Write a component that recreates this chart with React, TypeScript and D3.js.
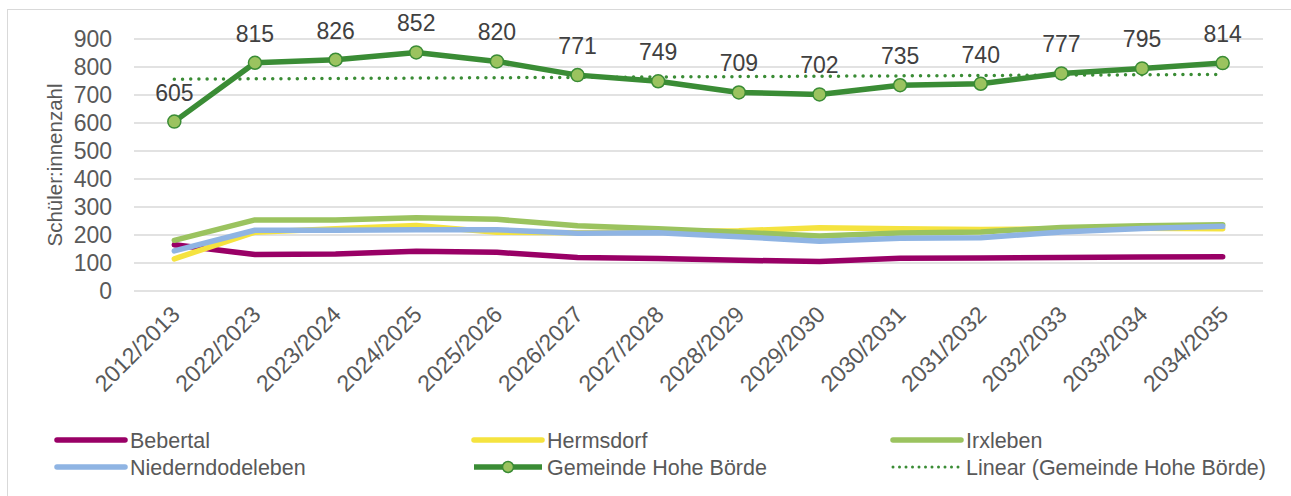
import { useEffect, useRef } from "react";
import { scaleLinear, scalePoint, select, line } from "d3";

const WIDTH = 1291;
const HEIGHT = 496;
const PLOT = { left: 134, right: 1263, top: 39, bottom: 291 };
const FONT = "'Liberation Sans', Arial, sans-serif";

const YEARS = [
  "2012/2013", "2022/2023", "2023/2024", "2024/2025", "2025/2026", "2026/2027", "2027/2028",
  "2028/2029", "2029/2030", "2030/2031", "2031/2032", "2032/2033", "2033/2034", "2034/2035",
];
const Y_TICKS = [0, 100, 200, 300, 400, 500, 600, 700, 800, 900];

const BEBERTAL = [165, 130, 132, 142, 138, 120, 116, 110, 105, 117, 118, 120, 121, 122];
const HERMSDORF = [115, 210, 222, 234, 210, 208, 212, 215, 226, 222, 220, 222, 224, 222];
const IRXLEBEN = [181, 254, 254, 262, 256, 233, 222, 210, 196, 207, 211, 227, 233, 237];
const NIEDERNDODELEBEN = [143, 217, 217, 219, 219, 206, 208, 194, 178, 188, 190, 211, 223, 231];
const HOHE_BOERDE = [605, 815, 826, 852, 820, 771, 749, 709, 702, 735, 740, 777, 795, 814];

const SERIES = [
  { name: "Bebertal", values: BEBERTAL, color: "#990066" },
  { name: "Hermsdorf", values: HERMSDORF, color: "#f5e33f" },
  { name: "Irxleben", values: IRXLEBEN, color: "#9bc35f" },
  { name: "Niederndodeleben", values: NIEDERNDODELEBEN, color: "#8fb4e3" },
];
const MAIN_COLOR = "#3a8c35";
const MARKER_FILL = "#9bc35f";

// least squares trend, same as Excel's "Linear" trendline
function linearFit(ys: number[]) {
  const n = ys.length;
  const mx = (n - 1) / 2;
  const my = ys.reduce((a, b) => a + b, 0) / n;
  let sxy = 0;
  let sxx = 0;
  ys.forEach((y, i) => {
    sxy += (i - mx) * (y - my);
    sxx += (i - mx) * (i - mx);
  });
  const slope = sxy / sxx;
  return ys.map((_, i) => my + slope * (i - mx));
}

export default function App() {
  const svgRef = useRef<SVGSVGElement>(null);

  useEffect(() => {
    document.body.style.margin = "0";
    const svg = select(svgRef.current);
    svg.selectAll("*").remove();

    const x = scalePoint<string>()
      .domain(YEARS)
      .range([PLOT.left, PLOT.right])
      .padding(0.5);
    const y = scaleLinear().domain([0, 900]).range([PLOT.bottom, PLOT.top]);

    // chart frame (only top/left edges fall inside the picture)
    svg.append("rect")
      .attr("x", 7.5)
      .attr("y", 9.5)
      .attr("width", WIDTH + 20)
      .attr("height", HEIGHT + 20)
      .attr("fill", "none")
      .attr("stroke", "#d9d9d9");

    // gridlines
    svg.append("g")
      .selectAll("line")
      .data(Y_TICKS)
      .join("line")
      .attr("x1", PLOT.left)
      .attr("x2", PLOT.right)
      .attr("y1", (d) => y(d))
      .attr("y2", (d) => y(d))
      .attr("stroke", "#d9d9d9")
      .attr("stroke-width", 1.5);

    // y tick labels
    svg.append("g")
      .selectAll("text")
      .data(Y_TICKS)
      .join("text")
      .attr("x", 112)
      .attr("y", (d) => y(d))
      .attr("dy", "0.36em")
      .attr("text-anchor", "end")
      .attr("font-family", FONT)
      .attr("font-size", "23px")
      .attr("fill", "#595959")
      .text((d) => d);

    // y axis title
    svg.append("text")
      .attr("transform", "translate(62,165) rotate(-90)")
      .attr("text-anchor", "middle")
      .attr("font-family", FONT)
      .attr("font-size", "20.5px")
      .attr("fill", "#595959")
      .text("Schüler:innenzahl");

    // x tick labels
    svg.append("g")
      .selectAll("text")
      .data(YEARS)
      .join("text")
      .attr("transform", (d) => `translate(${(x(d) ?? 0) + 7},${316}) rotate(-45)`)
      .attr("text-anchor", "end")
      .attr("font-family", FONT)
      .attr("font-size", "23px")
      .attr("fill", "#595959")
      .text((d) => d);

    const path = line<number>()
      .x((_, i) => x(YEARS[i]) ?? 0)
      .y((d) => y(d));

    SERIES.forEach((s) => {
      svg.append("path")
        .attr("d", path(s.values))
        .attr("fill", "none")
        .attr("stroke", s.color)
        .attr("stroke-width", 5.5)
        .attr("stroke-linejoin", "round")
        .attr("stroke-linecap", "round");
    });

    // Gemeinde Hohe Börde
    svg.append("path")
      .attr("d", path(HOHE_BOERDE))
      .attr("fill", "none")
      .attr("stroke", MAIN_COLOR)
      .attr("stroke-width", 5.5)
      .attr("stroke-linejoin", "round");

    // trendline
    svg.append("path")
      .attr("d", path(linearFit(HOHE_BOERDE)))
      .attr("fill", "none")
      .attr("stroke", MAIN_COLOR)
      .attr("stroke-width", 3.5)
      .attr("stroke-linecap", "round")
      .attr("stroke-dasharray", "0,8.2");

    svg.append("g")
      .selectAll("circle")
      .data(HOHE_BOERDE)
      .join("circle")
      .attr("cx", (_, i) => x(YEARS[i]) ?? 0)
      .attr("cy", (d) => y(d))
      .attr("r", 6.5)
      .attr("fill", MARKER_FILL)
      .attr("stroke", MAIN_COLOR)
      .attr("stroke-width", 1.5);

    svg.append("g")
      .selectAll("text")
      .data(HOHE_BOERDE)
      .join("text")
      .attr("x", (_, i) => x(YEARS[i]) ?? 0)
      .attr("y", (d) => y(d) - 21)
      .attr("text-anchor", "middle")
      .attr("font-family", FONT)
      .attr("font-size", "23px")
      .attr("fill", "#404040")
      .text((d) => d);

    // legend
    const legendItems = [
      { name: "Bebertal", color: SERIES[0].color, kind: "line" },
      { name: "Hermsdorf", color: SERIES[1].color, kind: "line" },
      { name: "Irxleben", color: SERIES[2].color, kind: "line" },
      { name: "Niederndodeleben", color: SERIES[3].color, kind: "line" },
      { name: "Gemeinde Hohe Börde", color: MAIN_COLOR, kind: "marker" },
      { name: "Linear (Gemeinde Hohe Börde)", color: MAIN_COLOR, kind: "dots" },
    ];
    const colX = [55, 472, 891];
    const rowY = [440, 467];

    legendItems.forEach((item, i) => {
      const lx = colX[i % 3];
      const ly = rowY[Math.floor(i / 3)];
      const g = svg.append("g");
      g.append("line")
        .attr("x1", lx + 2)
        .attr("x2", lx + 70)
        .attr("y1", ly)
        .attr("y2", ly)
        .attr("stroke", item.color)
        .attr("stroke-width", item.kind === "dots" ? 3 : 5.5)
        .attr("stroke-linecap", item.kind === "marker" ? "butt" : "round")
        .attr("stroke-dasharray", item.kind === "dots" ? "0,6.5" : null);
      if (item.kind === "marker") {
        g.append("circle")
          .attr("cx", lx + 36)
          .attr("cy", ly)
          .attr("r", 5.5)
          .attr("fill", MARKER_FILL)
          .attr("stroke", MAIN_COLOR)
          .attr("stroke-width", 1.5);
      }
      g.append("text")
        .attr("x", lx + 75)
        .attr("y", ly)
        .attr("dy", "0.36em")
        .attr("font-family", FONT)
        .attr("font-size", "21.5px")
        .attr("fill", "#595959")
        .text(item.name);
    });
  }, []);

  return <svg ref={svgRef} width={WIDTH} height={HEIGHT} style={{ display: "block" }} />;
}
